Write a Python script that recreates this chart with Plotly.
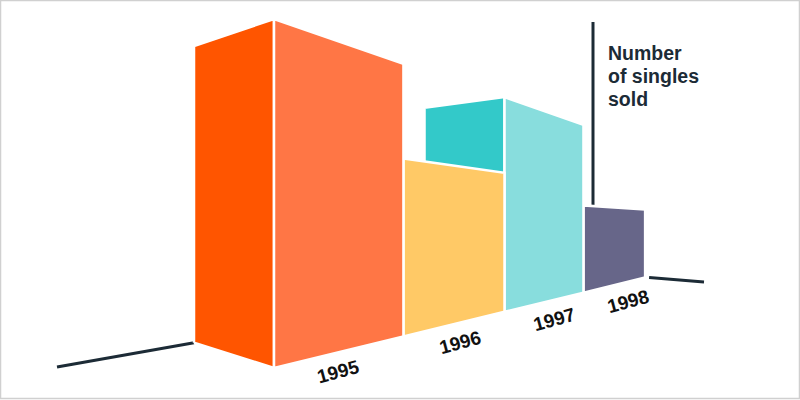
import plotly.graph_objects as go

# ---------------- data ----------------
years = ["1995", "1996", "1997", "1998"]
singles_sold = [349, 228, 352, 183]          # relative units (no scale shown in chart)
front_colors = ["#FF7645", "#FFC966", "#88DDDD", "#676689"]
side_colors = ["#FF5500", "#F2B24C", "#33C9C9", "#4E4D72"]
title_lines = ["Number", "of singles", "sold"]

# ---------------- perspective geometry (style constants) ----------------
VP_R = (865.0, 224.0)      # right vanishing point
VP_L = (-260.0, 199.0)     # left vanishing point
NEAR_U = 274.0             # screen x of nearest bar corner
FLOOR_Y0 = 368.0           # floor y at nearest corner
DEPTH_RATIO = 0.781        # perspective shrink from one bar slot to the next
SIDE_W = 80.0              # screen width of the side faces
AXIS_COLOR = "#1C2B36"
INK = "#111111"
FONT = "Liberation Sans, Arial, sans-serif"


def scale(u):
    return (VP_R[0] - u) / (VP_R[0] - NEAR_U)


def floor_y(u):
    return VP_R[1] + (FLOOR_Y0 - VP_R[1]) * scale(u)


def top_y(u, v):
    return floor_y(u) - v * scale(u)


def toward_left(u, y):
    t = SIDE_W / (u - VP_L[0])
    return u - SIDE_W, y + (VP_L[1] - y) * t


edges = [VP_R[0] - (VP_R[0] - NEAR_U) * DEPTH_RATIO ** k for k in range(len(years) + 1)]

fig = go.Figure()

# ---- axis frame (behind bars) ----
first_far_bottom = toward_left(edges[0], floor_y(edges[0]))
fig.add_trace(go.Scatter(x=[57, first_far_bottom[0]], y=[367, first_far_bottom[1]],
                         mode="lines", line=dict(color=AXIS_COLOR, width=3),
                         hoverinfo="skip", showlegend=False))
fig.add_trace(go.Scatter(x=[edges[-1] + 4, 704], y=[floor_y(edges[-1]), 282],
                         mode="lines", line=dict(color=AXIS_COLOR, width=3),
                         hoverinfo="skip", showlegend=False))
fig.add_trace(go.Scatter(x=[593, 593], y=[22, 260],
                         mode="lines", line=dict(color=AXIS_COLOR, width=3),
                         hoverinfo="skip", showlegend=False))

# ---- bars, far to near ----
for i in reversed(range(len(years))):
    v = singles_sold[i]
    u0, u1 = edges[i], edges[i + 1]
    b0, t0 = floor_y(u0), top_y(u0, v)
    b1, t1 = floor_y(u1), top_y(u1, v)
    fb = toward_left(u0, b0)
    ft = toward_left(u0, t0)
    # side face
    fig.add_trace(go.Scatter(x=[fb[0], u0, u0, ft[0], fb[0]],
                             y=[fb[1], b0, t0, ft[1], fb[1]],
                             mode="lines", fill="toself", fillcolor=side_colors[i],
                             line=dict(color="white", width=2.5),
                             hoverinfo="skip", showlegend=False))
    # front face
    fig.add_trace(go.Scatter(x=[u0, u1, u1, u0, u0],
                             y=[b0, b1, t1, t0, b0],
                             mode="lines", fill="toself", fillcolor=front_colors[i],
                             line=dict(color="white", width=2.5),
                             hoverinfo="skip", showlegend=False, name=years[i]))

annotations = []
for i, yr in enumerate(years):
    w = edges[i + 1] - edges[i]
    lx = edges[i] + 0.3 * w + 26
    ly = floor_y(lx) + 19.5
    annotations.append(dict(x=lx, y=ly, text=yr, showarrow=False, textangle=-15,
                            xanchor="center", yanchor="middle",
                            font=dict(family=FONT, size=19, color=INK, weight="bold")))

for j, line in enumerate(title_lines):
    annotations.append(dict(x=606, y=53 + 23 * j, text=line, showarrow=False, align="left",
                            xanchor="left", yanchor="middle",
                            font=dict(family=FONT, size=19.5, color=AXIS_COLOR, weight="bold")))

fig.update_layout(
    width=800, height=400,
    margin=dict(l=0, r=0, t=0, b=0),
    paper_bgcolor="white", plot_bgcolor="white",
    xaxis=dict(range=[0, 800], visible=False, fixedrange=True),
    yaxis=dict(range=[400, 0], visible=False, fixedrange=True),
    annotations=annotations,
    shapes=[dict(type="rect", xref="x", yref="y", x0=0.5, y0=0.5, x1=799.5, y1=398.5,
                 line=dict(color="#D0D0D0", width=1.5), fillcolor="rgba(0,0,0,0)")],
    showlegend=False,
)

fig.write_html("out.html", config={"displayModeBar": False},
               post_script="document.body.style.margin='0';document.body.style.overflow='hidden';")
